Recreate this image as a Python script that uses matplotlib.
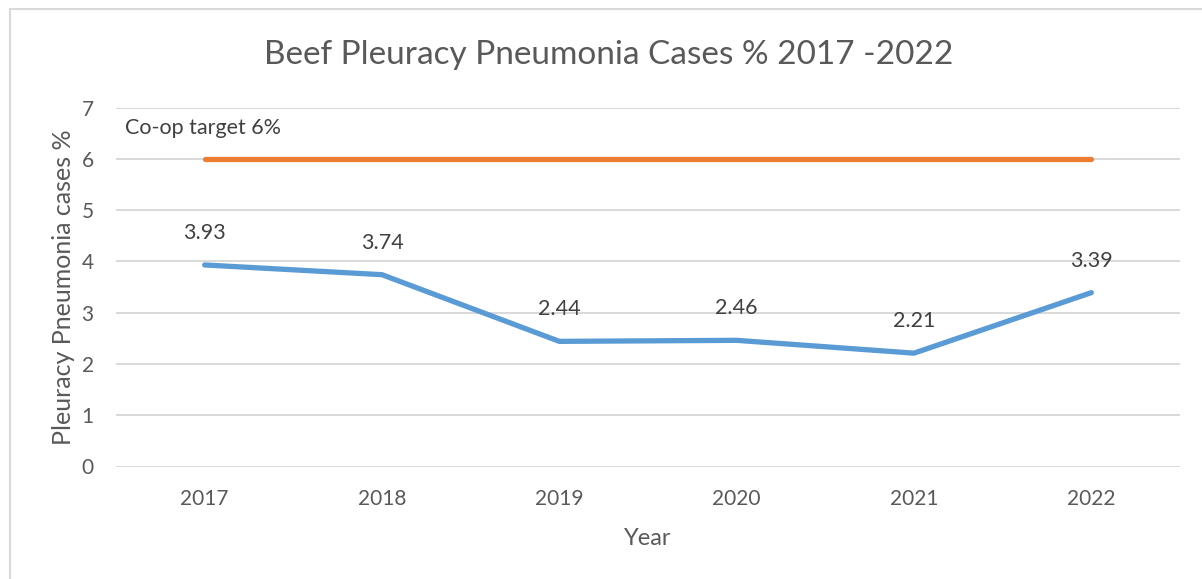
import matplotlib
matplotlib.use("Agg")
import matplotlib.pyplot as plt
from matplotlib.patches import Rectangle

years = ["2017", "2018", "2019", "2020", "2021", "2022"]
cases = [3.93, 3.74, 2.44, 2.46, 2.21, 3.39]
target = [6, 6, 6, 6, 6, 6]
target_label = "Co-op target 6%"
title = "Beef Pleuracy Pneumonia Cases % 2017 -2022"
xlabel = "Year"
ylabel = "Pleuracy Pneumonia cases %"

plt.rcParams['font.family'] = ['Lato', 'DejaVu Sans']
W, H = 1202, 579
fig = plt.figure(figsize=(W / 100, H / 100), dpi=100)
fig.patch.set_facecolor('white')

# outer chart border
fig.add_artist(Rectangle((10 / W, -0.05), 1.2, (579 - 9) / H + 0.05, transform=fig.transFigure,
                         fill=False, edgecolor='#D9D9D9', linewidth=1.5))

ax = fig.add_axes([116 / W, 112.5 / H, (1180 - 116) / W, (466.5 - 107.5) / H])
x = list(range(len(years)))
ax.plot(x, target, color='#ED7D31', linewidth=3.8, solid_capstyle='round', zorder=3)
ax.plot(x, cases, color='#5B9BD5', linewidth=3.8, solid_capstyle='round',
        solid_joinstyle='round', zorder=3)
for xi, v in zip(x, cases):
    ax.annotate(f"{v:.2f}", (xi, v), xytext=(0, 23), textcoords='offset points',
                ha='center', va='center', fontsize=15.5, color='#404040')

ax.text(-0.45, 6.6, target_label, ha='left', va='center', fontsize=15.5, color='#404040')

ax.set_xlim(-0.5, 5.5)
ax.set_ylim(0, 7)
ax.set_yticks(range(0, 8))
ax.set_xticks(x)
ax.set_xticklabels(years)
ax.yaxis.grid(True, color='#D9D9D9', linewidth=1.4)
ax.set_axisbelow(True)
for s in ax.spines.values():
    s.set_visible(False)
ax.tick_params(axis='both', length=0, labelsize=15, labelcolor='#595959')
ax.tick_params(axis='y', pad=16)
ax.tick_params(axis='x', pad=16)
ax.set_xlabel(xlabel, fontsize=17, color='#595959', labelpad=14)
ax.set_ylabel(ylabel, fontsize=18, color='#595959', labelpad=5)
fig.text(609 / W, 1 - 55 / H, title, ha='center', va='center', fontsize=24, color='#595959')

fig.savefig("out.png", dpi=100)
